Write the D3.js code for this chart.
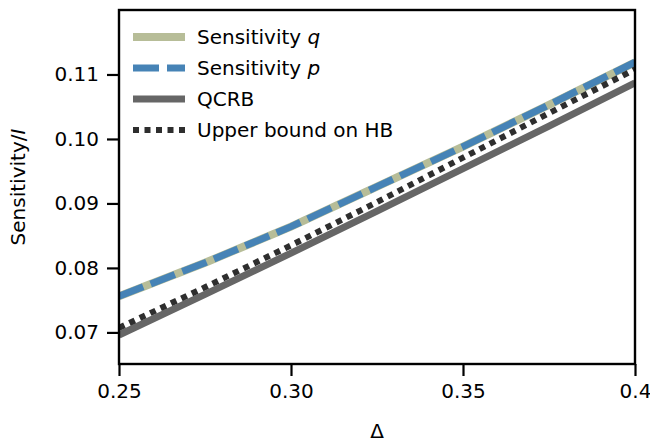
<!DOCTYPE html>
<html>
<head>
<meta charset="utf-8">
<script src="https://cdn.jsdelivr.net/npm/d3@7"></script>
<style>
  html, body { margin: 0; padding: 0; background: #fff; }
  svg { display: block; font-family: "DejaVu Sans", sans-serif; }
</style>
</head>
<body>
<svg id="chart" width="650" height="442"></svg>
<script>
// Detuning values and the curves evaluated at them
const delta = [0.25, 0.275, 0.30, 0.325, 0.35, 0.375, 0.40];
const sensQ = [0.0756, 0.0808, 0.0864, 0.0926, 0.0988, 0.1053, 0.1119];
const sensP = [0.0756, 0.0808, 0.0864, 0.0926, 0.0988, 0.1053, 0.1119];
const qcrb  = [0.0696, 0.0759, 0.0823, 0.0888, 0.0954, 0.1020, 0.1087];
const hbUpper = [0.0707, 0.0770, 0.0835, 0.0902, 0.0971, 0.1040, 0.1108];

const xTicks = [0.25, 0.30, 0.35, 0.40];
const xTickLabels = ["0.25", "0.30", "0.35", "0.4"];
const yTicks = [0.07, 0.08, 0.09, 0.10, 0.11];
const yTickLabels = ["0.07", "0.08", "0.09", "0.10", "0.11"];

const legendLabels = ["Sensitivity q", "Sensitivity p", "QCRB", "Upper bound on HB"];

const W = 650, H = 442;
const margin = { left: 119, right: 15, top: 10, bottom: 78 };
const svg = d3.select("#chart");

const x = d3.scaleLinear().domain([0.25, 0.40]).range([margin.left, W - margin.right]);
const y = d3.scaleLinear().domain([0.0651, 0.1200]).range([H - margin.bottom, margin.top]);

const line = d3.line().x((d, i) => x(delta[i])).y(d => y(d));

const series = [
  { values: qcrb,    color: "#666666", width: 7, dash: null },
  { values: sensQ,   color: "#b7bd98", width: 8, dash: null },
  { values: sensP,   color: "#4683b6", width: 7, dash: "26,8" },
  { values: hbUpper, color: "#2e2e2e", width: 6, dash: "6,5.5" }
];

const plot = svg.append("g");
plot.append("clipPath").attr("id", "clip")
  .append("rect")
  .attr("x", margin.left).attr("y", margin.top)
  .attr("width", W - margin.left - margin.right)
  .attr("height", H - margin.top - margin.bottom);

const lines = plot.append("g").attr("clip-path", "url(#clip)");
series.forEach(s => {
  lines.append("path")
    .datum(s.values)
    .attr("d", line)
    .attr("fill", "none")
    .attr("stroke", s.color)
    .attr("stroke-width", s.width)
    .attr("stroke-dasharray", s.dash)
    .attr("stroke-linecap", "butt");
});

// Axes
const xAxis = d3.axisBottom(x).tickValues(xTicks)
  .tickFormat((d, i) => xTickLabels[i]).tickSizeOuter(0).tickSize(12).tickPadding(8);
const yAxis = d3.axisLeft(y).tickValues(yTicks)
  .tickFormat((d, i) => yTickLabels[i]).tickSizeOuter(0).tickSize(12).tickPadding(8);

const gx = svg.append("g").attr("transform", `translate(0,${H - margin.bottom})`).call(xAxis);
const gy = svg.append("g").attr("transform", `translate(${margin.left},0)`).call(yAxis);
[gx, gy].forEach(g => {
  g.select(".domain").remove();
  g.selectAll(".tick line").attr("stroke", "#000").attr("stroke-width", 2.2);
  g.selectAll(".tick text").attr("fill", "#000").style("font-size", "20px")
    .style("font-family", "DejaVu Sans, sans-serif");
});

// Frame
svg.append("rect")
  .attr("x", margin.left).attr("y", margin.top)
  .attr("width", W - margin.left - margin.right)
  .attr("height", H - margin.top - margin.bottom)
  .attr("fill", "none").attr("stroke", "#000").attr("stroke-width", 2.4);

// Axis titles
svg.append("text")
  .attr("x", x(0.325)).attr("y", 438)
  .attr("text-anchor", "middle").style("font-size", "20px")
  .text("Δ");

const yl = svg.append("text")
  .attr("transform", `translate(25,${(margin.top + H - margin.bottom) / 2}) rotate(-90)`)
  .attr("text-anchor", "middle").style("font-size", "20px");
yl.append("tspan").text("Sensitivity/");
yl.append("tspan").style("font-style", "italic").text("I");

// Legend
const legend = svg.append("g");
const rowY = [37, 68, 99, 130];
const legendOrder = [1, 2, 0, 3];
legendOrder.forEach((si, i) => {
  const s = series[si];
  const yy = rowY[i];
  legend.append("line")
    .attr("x1", 133).attr("x2", 185).attr("y1", yy).attr("y2", yy)
    .attr("stroke", s.color).attr("stroke-width", s.width)
    .attr("stroke-dasharray", s.dash);
  const t = legend.append("text")
    .attr("x", 197).attr("y", yy + 7).style("font-size", "20px");
  const label = legendLabels[i];
  if (label.startsWith("Sensitivity ")) {
    t.append("tspan").text("Sensitivity ");
    t.append("tspan").style("font-style", "italic").text(label.slice(-1));
  } else {
    t.text(label);
  }
});
</script>
</body>
</html>
